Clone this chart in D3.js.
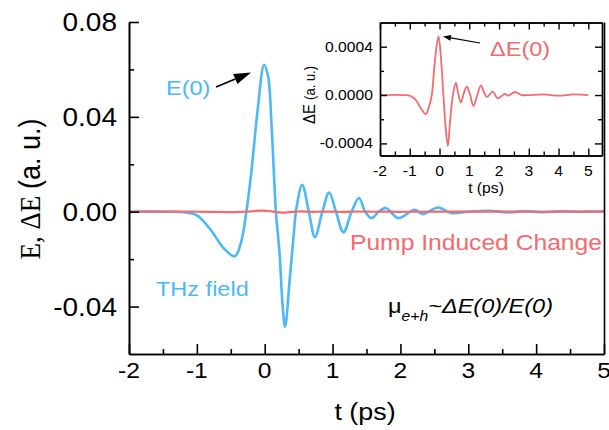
<!DOCTYPE html>
<html>
<head>
<meta charset="utf-8">
<script src="https://cdn.jsdelivr.net/npm/d3@7"></script>
<style>
  html, body { margin: 0; padding: 0; background: #fff; }
  svg { display: block; }
  text { font-family: "Liberation Sans", Arial, sans-serif; }
</style>
</head>
<body>
<svg id="chart" width="609" height="430"></svg>
<script>
// THz transmission pulse E(t) and pump-induced change ΔE(t)
const thzTime = [-2, -1.5, -1.2, -1.0, -0.8, -0.6, -0.44, -0.35, -0.27, -0.2, -0.1, -0.01, 0.05, 0.1, 0.165,
  0.22, 0.26, 0.30, 0.37, 0.42, 0.47, 0.553, 0.65, 0.74, 0.85, 0.95, 1.05, 1.16, 1.28, 1.39, 1.48,
  1.575, 1.68, 1.785, 1.97, 2.21, 2.33, 2.555, 2.75, 3.0, 3.3, 3.6, 3.85, 4.1, 4.35, 4.6, 5.0];
const thzField = [0, 0, -0.0002, -0.0015, -0.0075, -0.0155, -0.0188, -0.013, 0, 0.016, 0.044, 0.062, 0.057, 0.037, 0,
  -0.018, -0.038, -0.0485, -0.028, -0.012, 0.002, 0.0113, 0, -0.0107, 0, 0.0081, 0, -0.0087, 0, 0.0058, 0,
  -0.0027, 0, 0.0016, -0.0027, 0.0008, -0.001, 0.0018, -0.0006, 0, 0.0004, -0.0003, 0.0003, -0.0002, 0.0002, 0, 0.0002];

const dTime = [-2, -1.2, -1.0, -0.8, -0.6, -0.46, -0.36, -0.26, -0.15, -0.035, 0.05, 0.13, 0.2, 0.28, 0.36, 0.45,
  0.55, 0.63, 0.72, 0.82, 0.92, 1.03, 1.14, 1.27, 1.39, 1.5, 1.59, 1.79, 1.95, 2.1, 2.2, 2.3, 2.54, 2.75,
  3.0, 3.5, 4.0, 4.5, 5.0];
const deltaE = [0, 0, -0.000005, -0.00004, -0.00012, -0.000158, -0.0001, 0, 0.0003, 0.000485, 0.0003, 0, -0.00025, -0.00042, -0.0002, 0,
  0.000102, 0.00001, -0.0000625, 0.00002, 0.000069, 0, -0.00009, 0, 0.00008, 0.00002, -0.000016, 0.000028, -0.000027, -0.000005, 0.00001, -0.000005, 0.000025, 0,
  0, 0.000005, -0.000005, 0.000005, 0];

// Main panel ticks
const xTicks = [-2, -1, 0, 1, 2, 3, 4, 5];
const xTickLabels = ["-2", "-1", "0", "1", "2", "3", "4", "5"];
const xMinor = [-1.5, -0.5, 0.5, 1.5, 2.5, 3.5, 4.5];
const yTicks = [-0.04, 0, 0.04, 0.08];
const yTickLabels = ["-0.04", "0.00", "0.04", "0.08"];
const yMinor = [-0.02, 0.02, 0.06];

// Inset ticks
const inXTicks = [-2, -1, 0, 1, 2, 3, 4, 5];
const inXTickLabels = ["-2", "-1", "0", "1", "2", "3", "4", "5"];
const inXMinor = [-1.5, -0.5, 0.5, 1.5, 2.5, 3.5, 4.5];
const inYTicks = [-0.0004, 0, 0.0004];
const inYTickLabels = ["-0.0004", "0.0000", "0.0004"];
const inYMinor = [-0.0002, 0.0002];

const BLUE = "#4DB8F7";
const RED = "#F36B6E";
const SX = 1.12; // horizontal stretch of lettering

const svg = d3.select("#chart");

const x = d3.scaleLinear().domain([-2, 5]).range([129, 604]);
const y = d3.scaleLinear().domain([-0.06, 0.08]).range([354, 22]);

const ix = d3.scaleLinear().domain([-2, 5.46]).range([380, 602]);
const iy = d3.scaleLinear().domain([-0.0005, 0.0006]).range([155.5, 22.5]);

function label(g, txt, px, py, size, opts = {}) {
  const t = g.append("text")
    .attr("transform", `translate(${px},${py}) scale(${SX},1)`)
    .attr("font-size", size)
    .attr("text-anchor", opts.anchor || "start")
    .attr("fill", opts.fill || "#000");
  if (opts.dy) t.attr("dy", opts.dy);
  if (opts.style) t.attr("font-style", opts.style);
  t.text(txt);
  return t;
}

function styleAxis(g, w) {
  g.selectAll("path.domain").attr("stroke", "#000").attr("stroke-width", w);
  g.selectAll(".tick line").attr("stroke", "#000").attr("stroke-width", w);
  g.selectAll(".tick text").remove();
}

// ---- Main panel ----
const main = svg.append("g");

const lineMain = d3.line().curve(d3.curveCatmullRom.alpha(0.5));

main.append("path")
  .datum(thzTime.map((t, i) => [x(t), y(thzField[i])]))
  .attr("d", lineMain)
  .attr("fill", "none").attr("stroke", BLUE).attr("stroke-width", 2.6).attr("stroke-linejoin", "round");

main.append("path")
  .datum(dTime.map((t, i) => [x(t), y(deltaE[i])]))
  .attr("d", lineMain)
  .attr("fill", "none").attr("stroke", RED).attr("stroke-width", 2.2);

const gx = main.append("g").attr("transform", `translate(0,${y.range()[0]})`)
  .call(d3.axisBottom(x).tickValues(xTicks).tickSizeInner(-10).tickSizeOuter(0));
styleAxis(gx, 1.6);
const gxm = main.append("g").attr("transform", `translate(0,${y.range()[0]})`)
  .call(d3.axisBottom(x).tickValues(xMinor).tickSizeInner(-5).tickSizeOuter(0));
styleAxis(gxm, 1.6);

const gy = main.append("g").attr("transform", `translate(${x.range()[0]},0)`)
  .call(d3.axisLeft(y).tickValues(yTicks).tickSizeInner(-10).tickSizeOuter(0));
styleAxis(gy, 1.6);
const gym = main.append("g").attr("transform", `translate(${x.range()[0]},0)`)
  .call(d3.axisLeft(y).tickValues(yMinor).tickSizeInner(-5).tickSizeOuter(0));
styleAxis(gym, 1.6);

// right frame line
const gr = main.append("g").attr("transform", `translate(${x.range()[1]},0)`)
  .call(d3.axisRight(y).tickValues([]).tickSizeOuter(0));
styleAxis(gr, 1.6);

xTicks.forEach((v, i) => label(main, xTickLabels[i], x(v), 378, 22, { anchor: "middle" }));
yTicks.forEach((v, i) => label(main, yTickLabels[i], 117, y(v), 25, { anchor: "end", dy: "0.36em" }));

label(main, "t (ps)", 365, 420, 24, { anchor: "middle" });

// rotated y title, serif E symbols followed by sans units
const yt = main.append("text")
  .attr("transform", `translate(40,189) rotate(-90) scale(1,${SX})`)
  .attr("text-anchor", "middle")
  .attr("font-size", 27);
yt.append("tspan").attr("font-family", "'Liberation Serif', 'Times New Roman', serif").text("E, ΔE ");
yt.append("tspan").text("(a. u.)");

label(main, "E(0)", 166, 95, 21, { fill: BLUE });
label(main, "THz field", 156, 296, 21, { fill: BLUE });
label(main, "Pump Induced Change", 350, 250, 22, { fill: RED });

// mobility relation
const mu = main.append("text")
  .attr("transform", `translate(388,313) scale(${SX},1)`)
  .attr("font-size", 21);
mu.append("tspan").text("μ");
mu.append("tspan").attr("font-size", 14).attr("font-style", "italic").attr("dy", 8).text("e+h");
mu.append("tspan").attr("font-style", "italic").attr("dy", -8).text("~ΔE(0)/E(0)");

function arrow(g, x1, y1, x2, y2, headLen, headW, w) {
  const a = Math.atan2(y2 - y1, x2 - x1);
  const bx = x2 - headLen * Math.cos(a), by = y2 - headLen * Math.sin(a);
  g.append("line").attr("x1", x1).attr("y1", y1).attr("x2", bx).attr("y2", by)
    .attr("stroke", "#000").attr("stroke-width", w);
  const nx = -Math.sin(a) * headW / 2, ny = Math.cos(a) * headW / 2;
  g.append("path")
    .attr("d", `M${x2},${y2}L${bx + nx},${by + ny}L${bx - nx},${by - ny}Z`)
    .attr("fill", "#000");
}
arrow(main, 216, 87, 251, 72.5, 17, 11, 1.6);

// ---- Inset ----
const inset = svg.append("g");
inset.append("rect")
  .attr("x", ix.range()[0]).attr("y", iy.range()[1])
  .attr("width", ix.range()[1] - ix.range()[0]).attr("height", iy.range()[0] - iy.range()[1])
  .attr("fill", "#fff");

inset.append("path")
  .datum(dTime.map((t, i) => [ix(t), iy(deltaE[i])]))
  .attr("d", lineMain)
  .attr("fill", "none").attr("stroke", RED).attr("stroke-width", 1.8).attr("stroke-linejoin", "round");

const inAxes = [
  [d3.axisBottom(ix), `translate(0,${iy.range()[0]})`, inXTicks, inXMinor],
  [d3.axisTop(ix), `translate(0,${iy.range()[1]})`, inXTicks, inXMinor],
  [d3.axisLeft(iy), `translate(${ix.range()[0]},0)`, inYTicks, inYMinor],
  [d3.axisRight(iy), `translate(${ix.range()[1]},0)`, inYTicks, inYMinor]
];
inAxes.forEach(([ax, tr, major, minor]) => {
  const g1 = inset.append("g").attr("transform", tr)
    .call(ax.tickValues(major).tickSizeInner(-7).tickSizeOuter(0));
  styleAxis(g1, 1.4);
  const g2 = inset.append("g").attr("transform", tr)
    .call(ax.tickValues(minor).tickSizeInner(-4).tickSizeOuter(0));
  styleAxis(g2, 1.4);
});

inXTicks.forEach((v, i) => label(inset, inXTickLabels[i], ix(v), 176, 14, { anchor: "middle" }));
inYTicks.forEach((v, i) => label(inset, inYTickLabels[i], 373, iy(v), 14, { anchor: "end", dy: "0.36em" }));
label(inset, "t (ps)", 486, 193, 14, { anchor: "middle" });

const iyt = inset.append("text")
  .attr("transform", `translate(315,95) rotate(-90) scale(1,${SX})`)
  .attr("text-anchor", "middle")
  .attr("font-size", 15);
iyt.append("tspan").text("ΔE ");
iyt.append("tspan").attr("font-size", 13).text("(a. u.)");

label(inset, "ΔE(0)", 490, 56, 21, { fill: RED });
arrow(inset, 480, 43, 443, 36.5, 8, 6, 1.2);
</script>
</body>
</html>
